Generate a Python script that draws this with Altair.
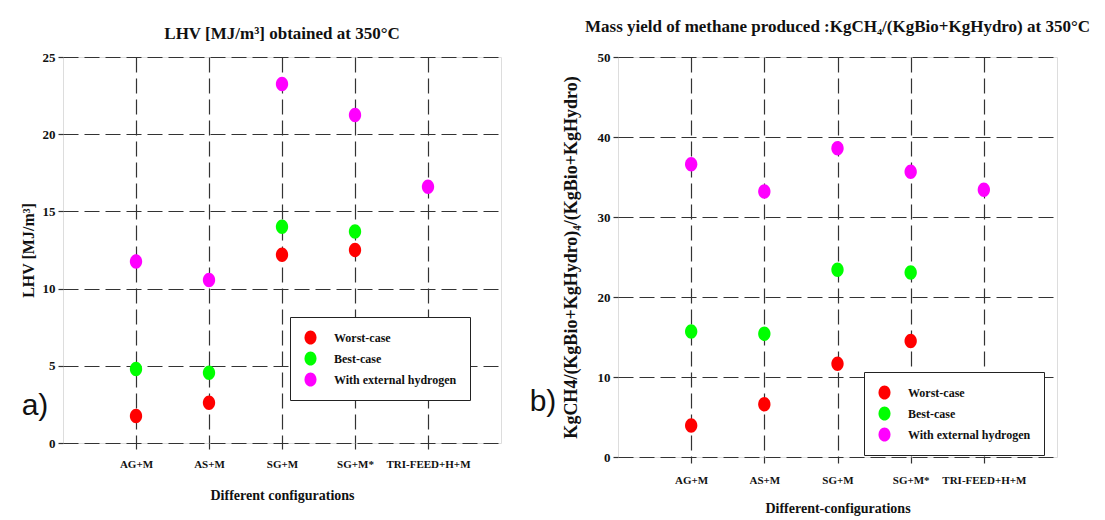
import altair as alt
import pandas as pd

configs = ["AG+M", "AS+M", "SG+M", "SG+M*", "TRI-FEED+H+M"]
series_names = ["Worst-case", "Best-case", "With external hydrogen"]
series_colors = ["#ff0000", "#00ff00", "#ff00ff"]

lhv_worst = [1.75, 2.6, 12.2, 12.5, None]
lhv_best = [4.8, 4.55, 14.0, 13.7, None]
lhv_hydrogen = [11.75, 10.55, 23.25, 21.25, 16.6]

yield_worst = [3.95, 6.6, 11.65, 14.5, None]
yield_best = [15.7, 15.4, 23.4, 23.05, None]
yield_hydrogen = [36.6, 33.2, 38.6, 35.65, 33.4]

lhv_ticks = [0, 5, 10, 15, 20, 25]
yield_ticks = [0, 10, 20, 30, 40, 50]

SERIF = "Liberation Serif"
SANS = "Liberation Sans"
ELLIPSE = ("M0,-1C0.47,-1 0.85,-0.55 0.85,0C0.85,0.55 0.47,1 0,1"
           "C-0.47,1 -0.85,0.55 -0.85,0C-0.85,-0.55 -0.47,-1 0,-1Z")


def make_long(worst, best, hyd):
    rows = []
    for vals, name in zip([worst, best, hyd], series_names):
        for c, v in zip(configs, vals):
            if v is not None:
                rows.append({"config": c, "series": name, "value": v})
    return pd.DataFrame(rows)


def panel(df, title, title_offset, ytitle, ytitle_pad, yticks, xtitle,
          xlabel_pad, xtitle_pad, w, h, lx, ly, tag, tag_x, tag_y):
    x = alt.X(
        "config:N", sort=configs,
        scale=alt.Scale(type="point", padding=1),
        axis=alt.Axis(
            title=xtitle, labelAngle=0, grid=True, gridDash=[15, 6],
            gridColor="#333", gridWidth=1.2, ticks=True, tickSize=6,
            tickColor="#333", tickWidth=1.2, domain=False,
            labelFont=SERIF, labelFontSize=11, labelFontWeight="bold",
            labelColor="#111", labelPadding=xlabel_pad,
            titleFont=SERIF, titleFontSize=14, titleFontWeight="bold",
            titleColor="#111", titlePadding=xtitle_pad,
        ),
    )
    y = alt.Y(
        "value:Q",
        scale=alt.Scale(domain=[yticks[0], yticks[-1]], nice=False),
        axis=alt.Axis(
            title=ytitle, values=yticks, grid=True, gridDash=[15, 6],
            gridColor="#333", gridWidth=1.2, ticks=True, tickSize=5,
            tickColor="#333", tickWidth=1.2, domain=False,
            labelFont=SERIF, labelFontSize=13, labelFontWeight="bold",
            labelColor="#111", labelPadding=3,
            titleFont=SERIF, titleFontSize=16 if len(ytitle) < 15 else 18,
            titleFontWeight="bold", titleColor="#111", titlePadding=ytitle_pad,
        ),
    )
    color = alt.Color(
        "series:N",
        scale=alt.Scale(domain=series_names, range=series_colors),
        legend=alt.Legend(
            title=None, orient="none", legendX=lx, legendY=ly,
            fillColor="white", strokeColor="#222", padding=13,
            symbolType=ELLIPSE, symbolSize=200, symbolStrokeWidth=0,
            labelFont=SERIF, labelFontSize=12, labelFontWeight="bold",
            labelColor="#111", labelOffset=16, rowPadding=6,
        ),
    )
    pts = alt.Chart(df).mark_point(
        filled=True, shape=ELLIPSE, size=210, opacity=1
    ).encode(x=x, y=y, color=color)
    label = alt.Chart(pd.DataFrame({"tag": [tag]})).mark_text(
        font=SANS, fontSize=30, color="#111", align="center", baseline="middle"
    ).encode(text="tag:N", x=alt.value(tag_x), y=alt.value(tag_y))
    return alt.layer(pts, label).properties(
        width=w, height=h,
        title=alt.TitleParams(
            text=title, font=SERIF, fontSize=17, fontWeight="bold",
            color="#111", offset=title_offset, anchor="middle", baseline="bottom",
        ),
    )


left = panel(
    make_long(lhv_worst, lhv_best, lhv_hydrogen),
    "LHV [MJ/m³] obtained at 350°C", -9,
    "LHV [MJ/m³]", 6, lhv_ticks, "Different configurations",
    9.5, 19, 438, 386, 227, 260, "a)", -28, 349,
)
right = panel(
    make_long(yield_worst, yield_best, yield_hydrogen),
    "Mass yield of methane produced :KgCH₄/(KgBio+KgHydro) at 350°C", -2,
    "KgCH4/(KgBio+KgHydro)₄/(KgBio+KgHydro)", 17, yield_ticks,
    "Different-configurations",
    11.5, 16, 439, 400, 246, 315, "b)", -75, 345,
)

chart = alt.hconcat(left, right, spacing=27).resolve_scale(
    color="independent"
).properties(
    padding={"left": 11, "top": 9, "right": 5, "bottom": 0}
).configure_view(
    stroke="#333", strokeWidth=1.5
).configure(background="white")

chart.save("out.html", embed_options={"renderer": "svg", "actions": False})
